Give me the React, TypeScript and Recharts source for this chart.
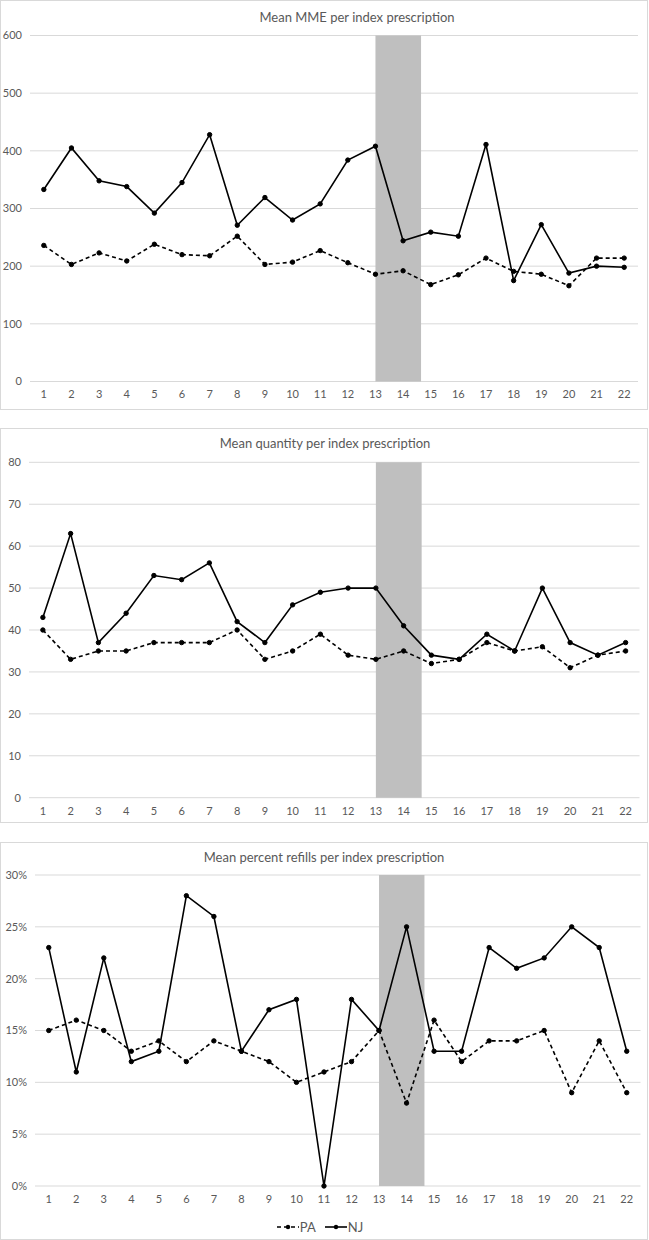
import { LineChart, Line, XAxis, YAxis, CartesianGrid, ReferenceArea } from 'recharts';

const FONT = 'Lato, "Open Sans", sans-serif';
const TEXT = '#595959';
const GRID = '#d9d9d9';

const PERIODS = [1, 2, 3, 4, 5, 6, 7, 8, 9, 10, 11, 12, 13, 14, 15, 16, 17, 18, 19, 20, 21, 22];
// shaded intervention window (period 13 to mid-14/15)
const BAND_START = 13;
const BAND_END = 14.65;

const MME_PA = [236, 203, 223, 209, 238, 220, 218, 252, 203, 207, 227, 206, 186, 192, 168, 185, 214, 191, 186, 166, 214, 214];
const MME_NJ = [333, 405, 348, 338, 292, 345, 428, 271, 319, 280, 308, 384, 408, 244, 259, 252, 411, 175, 272, 188, 200, 198];
const MME_TICKS = [0, 100, 200, 300, 400, 500, 600];

const QTY_PA = [40, 33, 35, 35, 37, 37, 37, 40, 33, 35, 39, 34, 33, 35, 32, 33, 37, 35, 36, 31, 34, 35];
const QTY_NJ = [43, 63, 37, 44, 53, 52, 56, 42, 37, 46, 49, 50, 50, 41, 34, 33, 39, 35, 50, 37, 34, 37];
const QTY_TICKS = [0, 10, 20, 30, 40, 50, 60, 70, 80];

const REFILL_PA = [15, 16, 15, 13, 14, 12, 14, 13, 12, 10, 11, 12, 15, 8, 16, 12, 14, 14, 15, 9, 14, 9];
const REFILL_NJ = [23, 11, 22, 12, 13, 28, 26, 13, 17, 18, 0, 18, 15, 25, 13, 13, 23, 21, 22, 25, 23, 13];
const REFILL_TICKS = [0, 5, 10, 15, 20, 25, 30];

const rows = (pa: number[], nj: number[]) =>
  PERIODS.map((p, i) => ({ period: p, PA: pa[i], NJ: nj[i] }));

const TICK = { fontFamily: FONT, fontSize: 11, fill: TEXT };
const DOT = { r: 2.2, fill: '#000', stroke: '#000', strokeWidth: 1, strokeDasharray: 'none' };

interface PanelProps {
  title: string;
  pa: number[];
  nj: number[];
  ticks: number[];
  fmt?: (v: number) => string;
  top: number;
  height: number;
  plotLeft: number;
  plotRight: number;
  plotTop: number;
  plotBottom: number;
  titleX: number;
  titleY: number;
}

function Panel({ title, pa, nj, ticks, fmt, top, height, plotLeft, plotRight, plotTop, plotBottom, titleX, titleY }: PanelProps) {
  const xAxisH = 20;
  const yMax = ticks[ticks.length - 1];
  return (
    <>
      <div style={{
        position: 'absolute', left: 0, top, width: 648, height,
        border: `1px solid ${GRID}`, boxSizing: 'border-box',
      }} />
      <div style={{ position: 'absolute', left: 0, top }}>
        <LineChart width={649} height={height} data={rows(pa, nj)}
          margin={{ top: plotTop - top, right: 649 - plotRight, left: 0, bottom: top + height - plotBottom - xAxisH }}>
          <CartesianGrid vertical={false} stroke={GRID} strokeWidth={1} />
          <XAxis dataKey="period" type="number" domain={[0.5, 22.5]} ticks={PERIODS} interval={0}
            tick={TICK} tickLine={false} axisLine={false} tickSize={0} tickMargin={9} height={xAxisH} />
          <YAxis domain={[0, yMax]} ticks={ticks} tick={TICK} tickFormatter={fmt}
            tickLine={false} axisLine={false} tickSize={0} tickMargin={8} width={plotLeft} />

          <ReferenceArea x1={BAND_START} x2={BAND_END} y1={0} y2={yMax} fill="#bfbfbf" fillOpacity={1} stroke="none" />

          <Line dataKey="PA" stroke="#000" strokeWidth={1.6} strokeDasharray="4 3"
            dot={DOT} activeDot={false} isAnimationActive={false} />
          <Line dataKey="NJ" stroke="#000" strokeWidth={1.6}
            dot={DOT} activeDot={false} isAnimationActive={false} />
        </LineChart>
      </div>
      <div style={{
        position: 'absolute', left: titleX - 200, width: 400, top: titleY - 9, textAlign: 'center',
        fontFamily: FONT, fontSize: 13, color: TEXT, lineHeight: '18px',
      }}>{title}</div>
    </>
  );
}

function LegendItem({ label, dashed }: { label: string; dashed?: boolean }) {
  return (
    <span style={{ display: 'inline-flex', alignItems: 'center', marginRight: 9 }}>
      <svg width={22} height={10}>
        <line x1={0} y1={5} x2={22} y2={5} stroke="#000" strokeWidth={1.6} strokeDasharray={dashed ? '4 3' : undefined} />
        <circle cx={11} cy={5} r={2.2} fill="#000" />
      </svg>
      <span style={{ marginLeft: 1 }}>{label}</span>
    </span>
  );
}

export default function App() {
  return (
    <div style={{ position: 'absolute', left: 0, top: 0, width: 649, height: 1240, background: '#fff' }}>
      <Panel title="Mean MME per index prescription" pa={MME_PA} nj={MME_NJ} ticks={MME_TICKS}
        top={0} height={410} plotLeft={30} plotRight={638} plotTop={35.5} plotBottom={381.5}
        titleX={357} titleY={17} />
      <Panel title="Mean quantity per index prescription" pa={QTY_PA} nj={QTY_NJ} ticks={QTY_TICKS}
        top={428} height={395} plotLeft={29} plotRight={639.5} plotTop={462.3} plotBottom={797.7}
        titleX={325} titleY={443} />
      <Panel title="Mean percent refills per index prescription" pa={REFILL_PA} nj={REFILL_NJ} ticks={REFILL_TICKS}
        fmt={(v: number) => `${v}%`}
        top={842} height={398} plotLeft={35} plotRight={640.5} plotTop={875} plotBottom={1186}
        titleX={324} titleY={857} />
      <div style={{
        position: 'absolute', left: 0, width: 649, top: 1218, height: 18,
        display: 'flex', justifyContent: 'center', alignItems: 'center',
        fontFamily: FONT, fontSize: 13, color: TEXT,
      }}>
        <LegendItem label="PA" dashed />
        <LegendItem label="NJ" />
      </div>
    </div>
  );
}
